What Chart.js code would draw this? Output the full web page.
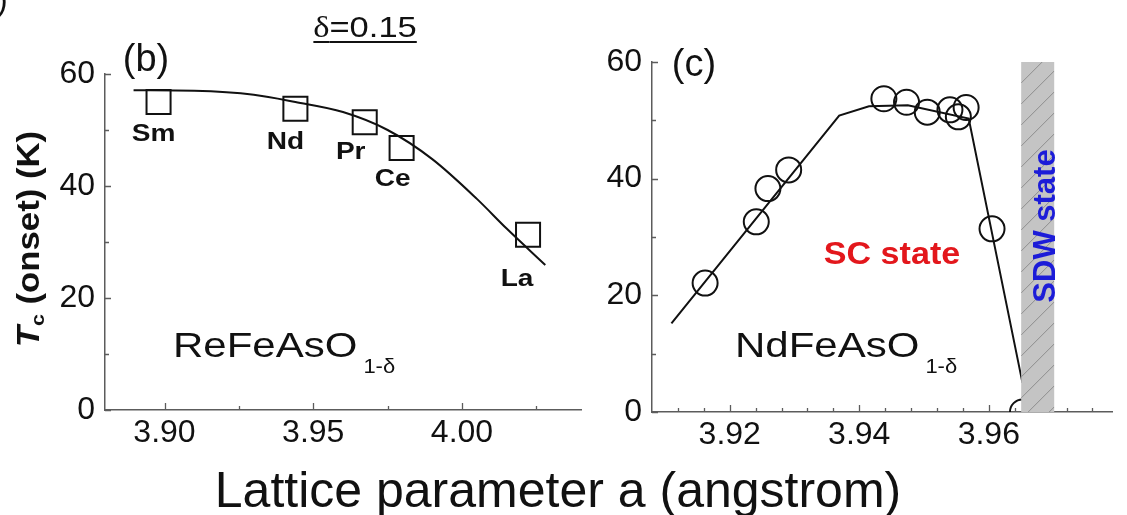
<!DOCTYPE html>
<html><head><meta charset="utf-8">
<script src="https://cdn.jsdelivr.net/npm/chart.js@4.4.1/dist/chart.umd.min.js"></script>
<style>
html,body{margin:0;padding:0;background:#fff;width:1127px;height:515px;overflow:hidden;font-family:"Liberation Sans",Arial,sans-serif;}
#wrap{position:relative;width:1127px;height:515px;}
canvas{position:absolute;top:0;}
#cA{left:0;} #cB{left:560px;}
.t{position:absolute;white-space:nowrap;color:#111;line-height:1;}
</style></head><body>
<div id="wrap">
<canvas id="cA" width="600" height="515"></canvas>
<canvas id="cB" width="567" height="515"></canvas>
<div class="t" style="left:-3px;top:-17px;font-size:32px;">)</div>
<div class="t" style="left:365px;top:12px;font-size:30px;transform:translateX(-50%) scaleX(1.15);text-decoration:underline;text-decoration-thickness:2px;text-underline-offset:4px;"><span style="font-family:'Liberation Serif',serif;">δ</span>=0.15</div>
<div class="t" style="left:30px;top:239px;font-weight:bold;font-size:31px;transform:translate(-50%,-50%) rotate(-90deg) scaleX(1.12);"><i>T</i><sub style="font-size:19px;vertical-align:-5px;">c</sub> (onset) (K)</div>
<div class="t" style="left:558px;top:465px;font-size:50px;transform:translateX(-50%);">Lattice parameter a (angstrom)</div>
</div>
<script>
// ---------- Panel (b): ReFeAsO(1-δ), δ = 0.15 ----------
const elementsB   = ['Sm', 'Nd', 'Pr', 'Ce', 'La'];
const latticeB    = [3.898, 3.944, 3.9673, 3.9797, 4.0222];
const tcB         = [55.0, 53.8, 51.4, 46.8, 31.3];
const fitLatticeB = [3.8896, 3.91, 3.93, 3.944, 3.96, 3.975, 3.99, 4.005, 4.015, 4.028];
const fitTcB      = [57.1, 57.0, 56.3, 55.0, 53.2, 50.0, 44.8, 37.7, 32.4, 25.9];
const xTicksB     = [3.90, 3.95, 4.00];
const xMinorB     = [3.925, 3.975, 4.025];

// ---------- Panel (c): NdFeAsO(1-δ) ----------
const latticeC      = [3.9162, 3.9241, 3.9259, 3.9291, 3.9438, 3.9473, 3.9505, 3.954, 3.9553, 3.9565, 3.9605, 3.9652];
const tcC           = [22.1, 32.6, 38.3, 41.5, 53.7, 53.1, 51.4, 51.8, 50.6, 52.2, 31.4, 0];
const guideLatticeC = [3.911, 3.9369, 3.9415, 3.9475, 3.9569, 3.9652];
const guideTcC      = [15.2, 50.8, 52.4, 52.6, 50.3, 5.0];
const xTicksC       = [3.92, 3.94, 3.96];
const xMinorC       = [3.912, 3.916, 3.924, 3.928, 3.932, 3.936, 3.944, 3.948, 3.952, 3.956, 3.964, 3.968, 3.972, 3.976];
const sdwRangeC     = [3.965, 3.9701];

// shared y axis
const yTicks = [0, 20, 40, 60];
const yMinor = [10, 30, 50];

const FONT = '"Liberation Sans", Arial, sans-serif';
const AXIS = '#5c5c5c';
const INK = '#111';

function pts(xs, ys) { return xs.map((x, i) => ({x: x, y: ys[i]})); }

function txt(ctx, s, x, y, font, color, align, base, sx) {
  ctx.save();
  ctx.translate(x, y);
  ctx.scale(sx || 1, 1);
  ctx.font = font; ctx.fillStyle = color;
  ctx.textAlign = align || 'left'; ctx.textBaseline = base || 'alphabetic';
  ctx.fillText(s, 0, 0);
  ctx.restore();
}
function formula(ctx, main, sub, x, y) {
  ctx.save();
  ctx.font = '35px ' + FONT;
  const w = ctx.measureText(main).width * 1.2;
  ctx.restore();
  txt(ctx, main, x, y, '35px ' + FONT, INK, 'left', 'alphabetic', 1.2);
  txt(ctx, sub, x + w + 6, y + 16, '20px ' + FONT, INK, 'left', 'alphabetic', 1.1);
}

const innerTicks = {
  id: 'innerTicks',
  beforeDatasetsDraw(chart, args, o) {
    const {ctx, chartArea: a} = chart;
    const xs = chart.scales.x, ys = chart.scales.y;
    ctx.save(); ctx.strokeStyle = AXIS; ctx.lineWidth = 1.3; ctx.beginPath();
    const xt = (vals, len) => vals.forEach(v => { const p = Math.round(xs.getPixelForValue(v)) + 0.5; ctx.moveTo(p, a.bottom); ctx.lineTo(p, a.bottom - len); });
    const yt = (vals, len) => vals.forEach(v => { const p = Math.round(ys.getPixelForValue(v)) + 0.5; ctx.moveTo(a.left, p); ctx.lineTo(a.left + len, p); });
    xt(o.xMajor, 7); xt(o.xMinor, 4); yt(o.yMajor, 6); yt(o.yMinor, 4);
    ctx.stroke(); ctx.restore();
  }
};

const annot = {
  id: 'annot',
  afterDatasetsDraw(chart, args, o) { if (o.under) o.under(chart); },
  afterDraw(chart, args, o) { if (o.over) o.over(chart); }
};

function scalesFor(xmin, xmax, xTicks, xH, yW) {
  return {
    x: {
      type: 'linear', min: xmin, max: xmax,
      afterFit(s) { s.height = xH; },
      afterBuildTicks(s) { s.ticks = xTicks.map(v => ({value: v})); },
      grid: {drawOnChartArea: false, drawTicks: false},
      border: {color: AXIS, width: 1.5},
      ticks: {color: INK, font: {family: FONT, size: 32}, padding: 4, maxRotation: 0, autoSkip: false,
              callback: v => Number(v).toFixed(2)}
    },
    y: {
      type: 'linear', min: 0, max: 60,
      afterFit(s) { s.width = yW; },
      afterBuildTicks(s) { s.ticks = yTicks.map(v => ({value: v})); },
      grid: {drawOnChartArea: false, drawTicks: false},
      border: {color: AXIS, width: 1.5},
      ticks: {color: INK, font: {family: FONT, size: 32}, padding: 10, callback: v => String(v)}
    }
  };
}

const labelOffsetsB = [[-5, 33], [-10, 34], [-14, 30], [-9, 32], [-11, 45]];

new Chart(document.getElementById('cA'), {
  type: 'scatter',
  data: {datasets: [
    {label: 'fit', data: pts(fitLatticeB, fitTcB), showLine: true, pointRadius: 0,
     borderColor: INK, borderWidth: 2, cubicInterpolationMode: 'monotone', fill: false},
    {label: 'ReFeAsO', data: pts(latticeB, tcB), showLine: false, pointStyle: 'rect', pointRadius: 17,
     borderColor: INK, borderWidth: 2, backgroundColor: 'rgba(0,0,0,0)'}
  ]},
  options: {
    responsive: false, animation: false, events: [],
    layout: {padding: {left: 0, right: 12, top: 74, bottom: 0}},
    scales: scalesFor(3.88, 4.04, xTicksB, 105, 105),
    plugins: {
      legend: {display: false}, tooltip: {enabled: false},
      innerTicks: {xMajor: xTicksB, xMinor: xMinorB, yMajor: yTicks, yMinor: yMinor},
      annot: {
        over(chart) {
          const ctx = chart.ctx, xs = chart.scales.x, ys = chart.scales.y;
          txt(ctx, '(b)', 146, 71, '38px ' + FONT, INK, 'center');
          elementsB.forEach((el, i) => {
            const px = xs.getPixelForValue(latticeB[i]), py = ys.getPixelForValue(tcB[i]);
            txt(ctx, el, px + labelOffsetsB[i][0], py + labelOffsetsB[i][1], 'bold 23px ' + FONT, INK, 'center', 'middle', 1.22);
          });
          formula(ctx, 'ReFeAsO', '1-δ', 173, 357);
        }
      }
    }
  },
  plugins: [innerTicks, annot]
});

new Chart(document.getElementById('cB'), {
  type: 'scatter',
  data: {datasets: [
    {label: 'guide', data: pts(guideLatticeC, guideTcC), showLine: true, pointRadius: 0,
     borderColor: INK, borderWidth: 2, tension: 0, fill: false},
    {label: 'NdFeAsO', data: pts(latticeC, tcC), showLine: false, pointStyle: 'circle', pointRadius: 12.5,
     borderColor: INK, borderWidth: 2, backgroundColor: 'rgba(0,0,0,0)', clip: 0}
  ]},
  options: {
    responsive: false, animation: false, events: [],
    layout: {padding: {left: 0, right: 7, top: 62, bottom: 0}},
    scales: scalesFor(3.908, 3.9791, xTicksC, 103, 92),
    plugins: {
      legend: {display: false}, tooltip: {enabled: false},
      innerTicks: {xMajor: xTicksC, xMinor: xMinorC, yMajor: yTicks, yMinor: yMinor},
      annot: {
        under(chart) {
          const ctx = chart.ctx, xs = chart.scales.x, ys = chart.scales.y;
          const x0 = xs.getPixelForValue(sdwRangeC[0]), x1 = xs.getPixelForValue(sdwRangeC[1]);
          const yT = ys.getPixelForValue(60), yB = ys.getPixelForValue(0);
          const w = x1 - x0;
          ctx.save();
          ctx.fillStyle = '#c4c4c4';
          ctx.fillRect(x0, yT, w, yB - yT);
          ctx.beginPath(); ctx.rect(x0, yT, w, yB - yT); ctx.clip();
          ctx.strokeStyle = '#8e8e8e'; ctx.lineWidth = 1; ctx.beginPath();
          for (let k = yT - w; k < yB + w; k += 21) { ctx.moveTo(x0, k + w); ctx.lineTo(x1, k); }
          ctx.stroke();
          ctx.restore();
        },
        over(chart) {
          const ctx = chart.ctx;
          txt(ctx, '(c)', 134, 76, '38px ' + FONT, INK, 'center');
          formula(ctx, 'NdFeAsO', '1-δ', 175, 357);
          txt(ctx, 'SC state', 332, 255, 'bold 31px ' + FONT, '#e3171c', 'center', 'middle', 1.1);
          ctx.save();
          ctx.translate(486, 226); ctx.rotate(-Math.PI / 2);
          txt(ctx, 'SDW state', 0, 0, 'bold 31px ' + FONT, '#1c1cd8', 'center', 'middle', 1);
          ctx.restore();
        }
      }
    }
  },
  plugins: [innerTicks, annot]
});
</script>
</body></html>
